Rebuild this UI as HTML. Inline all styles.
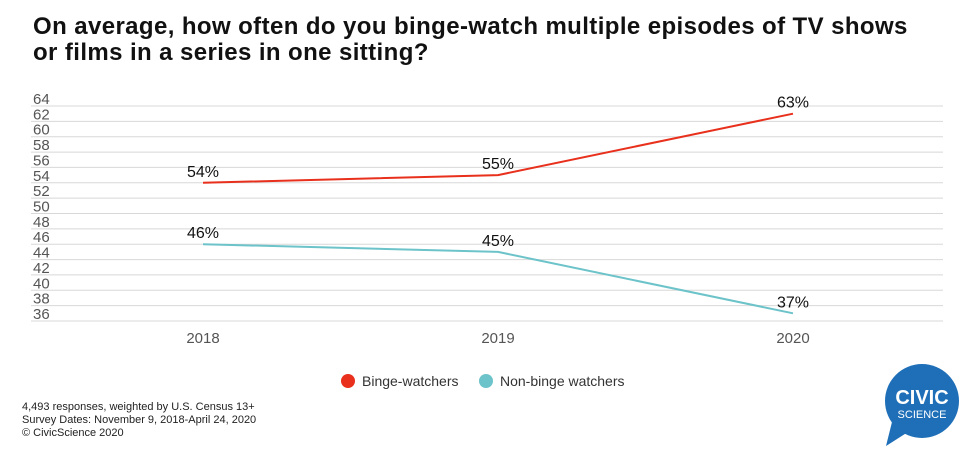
<!DOCTYPE html>
<html><head><meta charset="utf-8"><style>
body{margin:0;background:#fff;font-family:"Liberation Sans",sans-serif;}
#wrap{position:relative;width:967px;height:456px;overflow:hidden;}
h1{position:absolute;left:33px;top:14px;margin:0;font-size:24px;line-height:26px;font-weight:bold;color:#111;width:934px;letter-spacing:0.4px;white-space:nowrap;}
.foot{position:absolute;left:22px;top:401px;font-size:11px;line-height:13px;color:#222;}
</style></head><body>
<div id="wrap">
<h1>On average, how often do you binge-watch multiple episodes of TV shows<br>or films in a series in one sitting?</h1>
<svg id="chart" width="967" height="456" style="position:absolute;left:0;top:0"></svg>
<div class="foot">4,493 responses, weighted by U.S. Census 13+<br>Survey Dates: November 9, 2018-April 24, 2020<br>© CivicScience 2020</div>
<svg width="90" height="90" style="position:absolute;left:878px;top:360px">
<circle cx="44" cy="41" r="37" fill="#1e6fb8"/><path d="M14 62 L8 86 L30 72 Z" fill="#1e6fb8"/>
<text x="44" y="44" text-anchor="middle" font-family="Liberation Sans" font-weight="bold" font-size="20" fill="#fff">CIVIC</text>
<text x="44" y="58" text-anchor="middle" font-family="Liberation Sans" font-size="11" fill="#fff">SCIENCE</text>
</svg>
</div>
<script>
const years=["2018","2019","2020"];
const binge=[54,55,63];
const nonBinge=[46,45,37];
const yTicks=[64,62,60,58,56,54,52,50,48,46,44,42,40,38,36];
const NS="http://www.w3.org/2000/svg";
const svg=document.getElementById('chart');
const yMax=64,yMin=36,yTop=106,yBot=321;
function y(v){return yTop+(yMax-v)*(yBot-yTop)/(yMax-yMin);}
function x(i){return 203+i*295;}
function mk(t,a){const e=document.createElementNS(NS,t);for(const k in a)e.setAttribute(k,a[k]);svg.appendChild(e);return e;}
yTicks.forEach(v=>{
 const l=mk('line',{x1:31,x2:943,y1:y(v),y2:y(v),stroke:'#d8d8d8','stroke-width':1});
 
 
 const t=mk('text',{x:33,y:y(v)-2,'font-size':15,fill:'#555','font-family':'Liberation Sans'});
 t.textContent=v;
 
 
});
years.forEach((yr,i)=>{
 const t=mk('text',{x:x(i),y:343,'font-size':15,fill:'#555','text-anchor':'middle','font-family':'Liberation Sans'});
 t.textContent=yr;
 
 
});
function series(vals,color,name){
 const p=mk('polyline',{points:vals.map((v,i)=>x(i)+','+y(v)).join(' '),fill:'none',stroke:color,'stroke-width':2});
 
 
 vals.forEach((v,i)=>{
  const t=mk('text',{x:x(i),y:y(v)-6,'font-size':16,fill:'#111','text-anchor':'middle','font-family':'Liberation Sans'});
  t.textContent=v+'%';
  
  
 });
}
series(binge,'#e8301c','binge');
series(nonBinge,'#6cc3c9','non-binge');
[[348,'#e8301c','Binge-watchers'],[486,'#6cc3c9','Non-binge watchers']].forEach(([lx,c,lab])=>{
 const g=mk('circle',{cx:lx,cy:381,r:7,fill:c});
 
 
 const t=mk('text',{x:lx+14,y:386,'font-size':14,fill:'#333','font-family':'Liberation Sans'});
 t.textContent=lab;
 
 
});
</script>
</body></html>
